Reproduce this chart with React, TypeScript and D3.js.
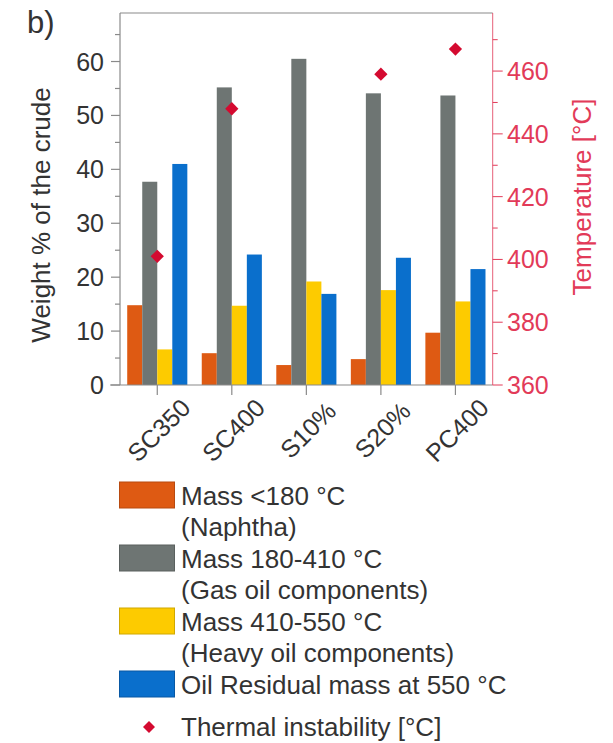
import React from "react";
import * as d3 from "d3";

// chart values
const categories = ["SC350", "SC400", "S10%", "S20%", "PC400"];
const naphtha = [14.8, 5.9, 3.7, 4.8, 9.7];
const gasOil = [37.7, 55.2, 60.5, 54.1, 53.7];
const heavyOil = [6.6, 14.7, 19.2, 17.6, 15.5];
const residual = [41.0, 24.2, 16.9, 23.6, 21.5];
const thermal: (number | null)[] = [401, 448, null, 459, 467];

const leftTicks = [0, 10, 20, 30, 40, 50, 60];
const leftMinor = [5, 15, 25, 35, 45, 55, 65];
const rightTicks = [360, 380, 400, 420, 440, 460];
const rightMinor = [370, 390, 410, 430, 450, 470];

const seriesKeys = ["naphtha", "gasOil", "heavyOil", "residual"];
const seriesValues = [naphtha, gasOil, heavyOil, residual];
const seriesColors = ["#DE5A13", "#6E7573", "#FDCB00", "#0A6FCC"];
const seriesStroke = ["#b84a10", "#5a605e", "#d0a800", "#0858a4"];

const legendLines = [
  ["Mass <180 °C", "(Naphtha)"],
  ["Mass 180-410 °C", "(Gas oil components)"],
  ["Mass 410-550 °C", "(Heavy oil components)"],
  ["Oil Residual mass at 550 °C"],
];
const thermalLabel = "Thermal instability [°C]";

const W = 613;
const H = 743;
const left = 120;
const right = 492.7;
const top = 13;
const bottom = 385;

const font = "'Liberation Sans', Arial, Helvetica, sans-serif";
const red = "#D40A30";
const pink = "#E23A58";
const axisGrey = "#8a8a8a";
const textCol = "#333";

export default function App() {
  const x = d3.scaleBand().domain(categories).range([left, right]).padding(0);
  const x1 = d3
    .scaleBand()
    .domain(seriesKeys)
    .range([0, x.bandwidth()])
    .paddingInner(0)
    .paddingOuter(0.48);
  const yL = d3.scaleLinear().domain([0, 69]).range([bottom, top]);
  const yR = d3.scaleLinear().domain([360, 478.5]).range([bottom, top]);

  const diamond = d3.symbol(d3.symbolSquare, 88)()!;

  return (
    <div style={{ position: "absolute", left: 0, top: 0 }}>
      <svg width={W} height={H} style={{ display: "block", background: "#fff" }} fontFamily={font}>
        <text x={27} y={33} fontSize={31} fill={textCol}>b)</text>

        {/* bars */}
        {categories.map((c, i) => (
          <g key={c} transform={`translate(${x(c)},0)`}>
            {seriesKeys.map((k, j) => {
              const v = seriesValues[j][i];
              return (
                <rect
                  key={k}
                  x={x1(k)}
                  y={yL(v)}
                  width={x1.bandwidth()}
                  height={bottom - yL(v)}
                  fill={seriesColors[j]}
                />
              );
            })}
          </g>
        ))}

        {/* frame */}
        <line x1={left} x2={right} y1={top} y2={top} stroke={axisGrey} strokeWidth={1.2} />
        <line x1={left} x2={left} y1={top} y2={bottom} stroke={axisGrey} strokeWidth={1.2} />
        <line x1={left - 10} x2={right} y1={bottom} y2={bottom} stroke={axisGrey} strokeWidth={1.2} />
        <line x1={right} x2={right} y1={top} y2={bottom} stroke={pink} strokeWidth={1} opacity={0.8} />

        {/* left axis */}
        {leftTicks.map((t) => (
          <g key={t}>
            <line x1={left - 9} x2={left} y1={yL(t)} y2={yL(t)} stroke={axisGrey} strokeWidth={1.2} />
            <text x={104} y={yL(t)} dy="0.36em" textAnchor="end" fontSize={25} fill={textCol}>{t}</text>
          </g>
        ))}
        {leftMinor.map((t) => (
          <line key={t} x1={left - 5} x2={left} y1={yL(t)} y2={yL(t)} stroke={axisGrey} strokeWidth={1.2} />
        ))}
        <text
          transform="translate(50,215) rotate(-90)"
          textAnchor="middle"
          fontSize={26}
          fill={textCol}
        >
          Weight % of the crude
        </text>

        {/* right axis */}
        {rightTicks.map((t) => (
          <g key={t}>
            <line x1={right} x2={right + 10} y1={yR(t)} y2={yR(t)} stroke={pink} strokeWidth={1} />
            <text x={507} y={yR(t)} dy="0.36em" fontSize={25} fill={pink}>{t}</text>
          </g>
        ))}
        {rightMinor.map((t) => (
          <line key={t} x1={right} x2={right + 5} y1={yR(t)} y2={yR(t)} stroke={pink} strokeWidth={1} />
        ))}
        <text
          transform="translate(582,197) rotate(-90)"
          dy="0.36em"
          textAnchor="middle"
          fontSize={26}
          fill={pink}
        >
          Temperature [°C]
        </text>

        {/* x axis */}
        {categories.map((c) => {
          const cx = x(c)! + x.bandwidth() / 2;
          return (
            <g key={c}>
              <line x1={cx} x2={cx} y1={bottom} y2={bottom + 10} stroke={axisGrey} strokeWidth={1.2} />
              <text
                transform={`translate(${cx + 1.5},430) rotate(-45)`}
                textAnchor="middle"
                dy="0.36em"
                fontSize={25}
                fill={textCol}
              >
                {c}
              </text>
            </g>
          );
        })}

        {/* thermal instability */}
        {categories.map((c, i) => {
          const t = thermal[i];
          if (t == null) return null;
          const cx = x(c)! + x.bandwidth() / 2;
          return (
            <path key={c} d={diamond} transform={`translate(${cx},${yR(t)}) rotate(45)`} fill={red} />
          );
        })}

        {/* legend */}
        {legendLines.map((lines, i) => {
          const y0 = 482 + i * 63;
          return (
            <g key={i}>
              <rect
                x={119.5}
                y={y0}
                width={55}
                height={26}
                fill={seriesColors[i]}
                stroke={seriesStroke[i]}
                strokeWidth={1}
              />
              {lines.map((l, k) => (
                <text key={k} x={181} y={y0 + 23 + k * 31} fontSize={26} fill={textCol}>
                  {l}
                </text>
              ))}
            </g>
          );
        })}
        <path d={diamond} transform="translate(149,727) rotate(45) scale(0.9)" fill={red} />
        <text x={181} y={736} fontSize={26} fill={textCol}>{thermalLabel}</text>
      </svg>
    </div>
  );
}
